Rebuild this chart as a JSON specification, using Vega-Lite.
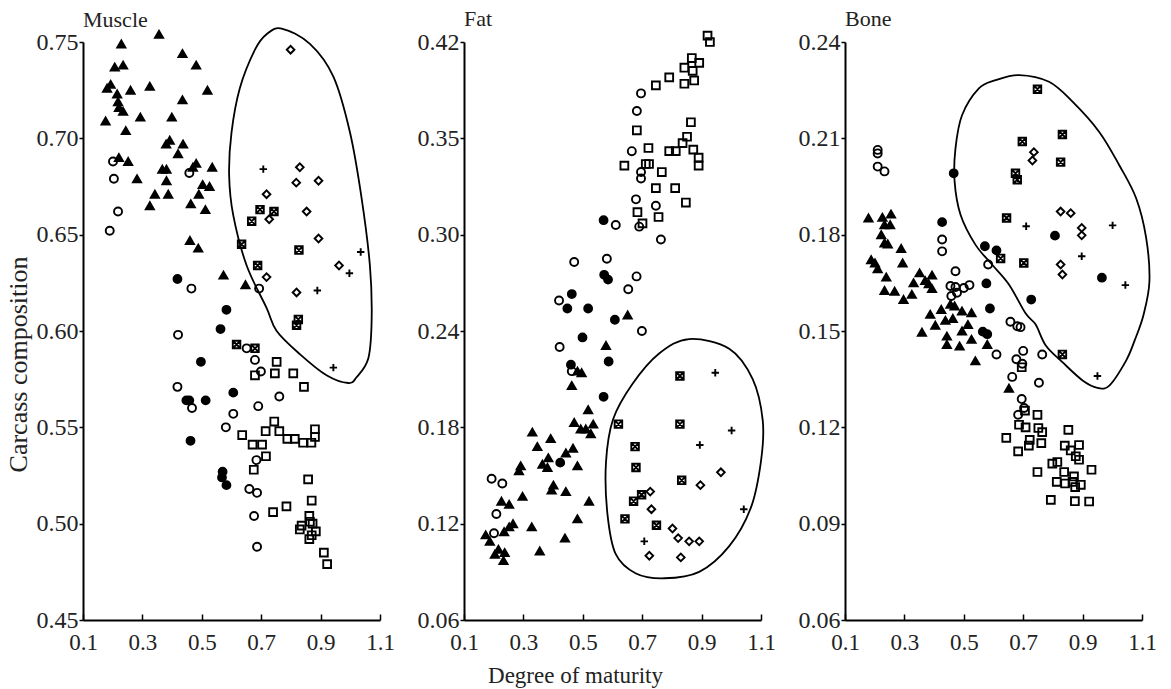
{
  "$schema": "https://vega.github.io/schema/vega-lite/v6.json",
  "background": "white",
  "padding": {"left": 5, "top": 7, "right": 5, "bottom": 2},
  "config": {
    "view": {"stroke": null},
    "concat": {"spacing": 22},
    "axis": {"grid": false, "domainColor": "black", "domainWidth": 2, "tickColor": "black", "tickWidth": 1.5, "labelFlush": false, "labelOverlap": false,
      "labelFont": "Liberation Serif", "labelFontSize": 24, "labelColor": "#222",
      "titleFont": "Liberation Serif", "titleFontSize": 23, "titleFontWeight": "normal", "titleColor": "#222"},
    "axisX": {"labelFontSize": 23},
    "title": {"font": "Liberation Serif", "fontSize": 22, "fontWeight": "normal", "color": "#222", "anchor": "start", "frame": "group"}
  },
  "datasets": {
    "pts": [
      {"p":"M","g":"tri","x":0.356,"y":0.754},{"p":"M","g":"tri","x":0.229,"y":0.749},{"p":"M","g":"tri","x":0.435,"y":0.744},{"p":"M","g":"tri","x":0.481,"y":0.738},{"p":"M","g":"tri","x":0.207,"y":0.737},{"p":"M","g":"tri","x":0.235,"y":0.738},{"p":"M","g":"tri","x":0.193,"y":0.728},{"p":"M","g":"tri","x":0.181,"y":0.726},{"p":"M","g":"tri","x":0.215,"y":0.723},{"p":"M","g":"tri","x":0.218,"y":0.719},{"p":"M","g":"tri","x":0.260,"y":0.725},{"p":"M","g":"tri","x":0.325,"y":0.727},{"p":"M","g":"tri","x":0.519,"y":0.725},{"p":"M","g":"tri","x":0.435,"y":0.720},{"p":"M","g":"tri","x":0.221,"y":0.716},{"p":"M","g":"tri","x":0.235,"y":0.714},{"p":"M","g":"tri","x":0.293,"y":0.711},{"p":"M","g":"tri","x":0.176,"y":0.709},{"p":"M","g":"tri","x":0.399,"y":0.711},{"p":"M","g":"tri","x":0.244,"y":0.704},{"p":"M","g":"tri","x":0.380,"y":0.697},{"p":"M","g":"tri","x":0.392,"y":0.699},{"p":"M","g":"tri","x":0.437,"y":0.697},{"p":"M","g":"tri","x":0.420,"y":0.692},{"p":"M","g":"tri","x":0.221,"y":0.690},{"p":"M","g":"tri","x":0.252,"y":0.688},{"p":"M","g":"tri","x":0.282,"y":0.679},{"p":"M","g":"tri","x":0.367,"y":0.684},{"p":"M","g":"tri","x":0.381,"y":0.684},{"p":"M","g":"tri","x":0.381,"y":0.678},{"p":"M","g":"tri","x":0.342,"y":0.671},{"p":"M","g":"tri","x":0.387,"y":0.671},{"p":"M","g":"tri","x":0.470,"y":0.685},{"p":"M","g":"tri","x":0.481,"y":0.687},{"p":"M","g":"tri","x":0.535,"y":0.685},{"p":"M","g":"tri","x":0.503,"y":0.676},{"p":"M","g":"tri","x":0.526,"y":0.675},{"p":"M","g":"tri","x":0.490,"y":0.671},{"p":"M","g":"tri","x":0.325,"y":0.665},{"p":"M","g":"tri","x":0.463,"y":0.666},{"p":"M","g":"tri","x":0.512,"y":0.663},{"p":"M","g":"tri","x":0.460,"y":0.647},{"p":"M","g":"tri","x":0.488,"y":0.643},{"p":"M","g":"tri","x":0.573,"y":0.629},{"p":"M","g":"tri","x":0.647,"y":0.624},
      {"p":"M","g":"circ","x":0.201,"y":0.688},{"p":"M","g":"circ","x":0.204,"y":0.679},{"p":"M","g":"circ","x":0.218,"y":0.662},{"p":"M","g":"circ","x":0.190,"y":0.652},{"p":"M","g":"circ","x":0.458,"y":0.682},{"p":"M","g":"circ","x":0.465,"y":0.622},{"p":"M","g":"circ","x":0.693,"y":0.622},{"p":"M","g":"circ","x":0.420,"y":0.598},{"p":"M","g":"circ","x":0.418,"y":0.571},{"p":"M","g":"circ","x":0.467,"y":0.560},{"p":"M","g":"circ","x":0.651,"y":0.591},{"p":"M","g":"circ","x":0.679,"y":0.585},{"p":"M","g":"circ","x":0.699,"y":0.579},{"p":"M","g":"circ","x":0.761,"y":0.566},{"p":"M","g":"circ","x":0.690,"y":0.561},{"p":"M","g":"circ","x":0.606,"y":0.557},{"p":"M","g":"circ","x":0.581,"y":0.550},{"p":"M","g":"circ","x":0.684,"y":0.533},{"p":"M","g":"circ","x":0.660,"y":0.518},{"p":"M","g":"circ","x":0.686,"y":0.516},{"p":"M","g":"circ","x":0.676,"y":0.504},{"p":"M","g":"circ","x":0.686,"y":0.488},
      {"p":"M","g":"dot","x":0.418,"y":0.627},{"p":"M","g":"dot","x":0.583,"y":0.611},{"p":"M","g":"dot","x":0.563,"y":0.601},{"p":"M","g":"dot","x":0.497,"y":0.584},{"p":"M","g":"dot","x":0.606,"y":0.568},{"p":"M","g":"dot","x":0.513,"y":0.564},{"p":"M","g":"dot","x":0.448,"y":0.564},{"p":"M","g":"dot","x":0.458,"y":0.564},{"p":"M","g":"dot","x":0.462,"y":0.543},{"p":"M","g":"dot","x":0.570,"y":0.527},{"p":"M","g":"dot","x":0.568,"y":0.524},{"p":"M","g":"dot","x":0.583,"y":0.520},
      {"p":"M","g":"sq","x":0.752,"y":0.584},{"p":"M","g":"sq","x":0.746,"y":0.578},{"p":"M","g":"sq","x":0.808,"y":0.578},{"p":"M","g":"sq","x":0.844,"y":0.571},{"p":"M","g":"sq","x":0.679,"y":0.577},{"p":"M","g":"sq","x":0.744,"y":0.553},{"p":"M","g":"sq","x":0.636,"y":0.546},{"p":"M","g":"sq","x":0.715,"y":0.548},{"p":"M","g":"sq","x":0.761,"y":0.548},{"p":"M","g":"sq","x":0.788,"y":0.544},{"p":"M","g":"sq","x":0.813,"y":0.544},{"p":"M","g":"sq","x":0.841,"y":0.542},{"p":"M","g":"sq","x":0.869,"y":0.542},{"p":"M","g":"sq","x":0.881,"y":0.549},{"p":"M","g":"sq","x":0.881,"y":0.545},{"p":"M","g":"sq","x":0.671,"y":0.541},{"p":"M","g":"sq","x":0.703,"y":0.541},{"p":"M","g":"sq","x":0.716,"y":0.535},{"p":"M","g":"sq","x":0.675,"y":0.528},{"p":"M","g":"sq","x":0.858,"y":0.523},{"p":"M","g":"sq","x":0.870,"y":0.512},{"p":"M","g":"sq","x":0.785,"y":0.509},{"p":"M","g":"sq","x":0.740,"y":0.506},{"p":"M","g":"sq","x":0.862,"y":0.504},{"p":"M","g":"sq","x":0.836,"y":0.499},{"p":"M","g":"sq","x":0.830,"y":0.497},{"p":"M","g":"sq","x":0.864,"y":0.501},{"p":"M","g":"sq","x":0.873,"y":0.500},{"p":"M","g":"sq","x":0.884,"y":0.496},{"p":"M","g":"sq","x":0.862,"y":0.492},{"p":"M","g":"sq","x":0.870,"y":0.494},{"p":"M","g":"sq","x":0.911,"y":0.485},{"p":"M","g":"sq","x":0.922,"y":0.479},
      {"p":"M","g":"dia","x":0.799,"y":0.746},{"p":"M","g":"dia","x":0.830,"y":0.685},{"p":"M","g":"dia","x":0.818,"y":0.677},{"p":"M","g":"dia","x":0.893,"y":0.678},{"p":"M","g":"dia","x":0.718,"y":0.671},{"p":"M","g":"dia","x":0.853,"y":0.662},{"p":"M","g":"dia","x":0.727,"y":0.658},{"p":"M","g":"dia","x":0.893,"y":0.648},{"p":"M","g":"dia","x":0.718,"y":0.628},{"p":"M","g":"dia","x":0.962,"y":0.634},{"p":"M","g":"dia","x":0.819,"y":0.620},
      {"p":"M","g":"box","x":0.696,"y":0.663},{"p":"M","g":"box","x":0.668,"y":0.657},{"p":"M","g":"box","x":0.743,"y":0.662},{"p":"M","g":"box","x":0.634,"y":0.645},{"p":"M","g":"box","x":0.688,"y":0.634},{"p":"M","g":"box","x":0.827,"y":0.642},{"p":"M","g":"box","x":0.825,"y":0.606},{"p":"M","g":"box","x":0.819,"y":0.603},{"p":"M","g":"box","x":0.617,"y":0.593},{"p":"M","g":"box","x":0.679,"y":0.591},
      {"p":"M","g":"plus","x":0.707,"y":0.684},{"p":"M","g":"plus","x":1.035,"y":0.641},{"p":"M","g":"plus","x":0.997,"y":0.630},{"p":"M","g":"plus","x":0.889,"y":0.621},{"p":"M","g":"plus","x":0.943,"y":0.581},

      {"p":"F","g":"sq","x":0.920,"y":0.424},{"p":"F","g":"sq","x":0.928,"y":0.420},{"p":"F","g":"sq","x":0.867,"y":0.410},{"p":"F","g":"sq","x":0.892,"y":0.407},{"p":"F","g":"sq","x":0.842,"y":0.404},{"p":"F","g":"sq","x":0.870,"y":0.402},{"p":"F","g":"sq","x":0.875,"y":0.396},{"p":"F","g":"sq","x":0.842,"y":0.394},{"p":"F","g":"sq","x":0.791,"y":0.398},{"p":"F","g":"sq","x":0.746,"y":0.393},{"p":"F","g":"sq","x":0.864,"y":0.370},{"p":"F","g":"sq","x":0.851,"y":0.361},{"p":"F","g":"sq","x":0.836,"y":0.357},{"p":"F","g":"sq","x":0.813,"y":0.352},{"p":"F","g":"sq","x":0.791,"y":0.352},{"p":"F","g":"sq","x":0.721,"y":0.354},{"p":"F","g":"sq","x":0.872,"y":0.353},{"p":"F","g":"sq","x":0.890,"y":0.348},{"p":"F","g":"sq","x":0.890,"y":0.343},{"p":"F","g":"sq","x":0.640,"y":0.343},{"p":"F","g":"sq","x":0.712,"y":0.344},{"p":"F","g":"sq","x":0.723,"y":0.344},{"p":"F","g":"sq","x":0.682,"y":0.365},{"p":"F","g":"sq","x":0.766,"y":0.339},{"p":"F","g":"sq","x":0.746,"y":0.329},{"p":"F","g":"sq","x":0.811,"y":0.329},{"p":"F","g":"sq","x":0.847,"y":0.320},{"p":"F","g":"sq","x":0.684,"y":0.314},{"p":"F","g":"sq","x":0.755,"y":0.311},{"p":"F","g":"sq","x":0.701,"y":0.307},
      {"p":"F","g":"circ","x":0.696,"y":0.388},{"p":"F","g":"circ","x":0.682,"y":0.377},{"p":"F","g":"circ","x":0.665,"y":0.352},{"p":"F","g":"circ","x":0.696,"y":0.339},{"p":"F","g":"circ","x":0.696,"y":0.335},{"p":"F","g":"circ","x":0.679,"y":0.322},{"p":"F","g":"circ","x":0.746,"y":0.318},{"p":"F","g":"circ","x":0.611,"y":0.306},{"p":"F","g":"circ","x":0.690,"y":0.305},{"p":"F","g":"circ","x":0.763,"y":0.297},{"p":"F","g":"circ","x":0.471,"y":0.283},{"p":"F","g":"circ","x":0.581,"y":0.285},{"p":"F","g":"circ","x":0.681,"y":0.274},{"p":"F","g":"circ","x":0.653,"y":0.266},{"p":"F","g":"circ","x":0.420,"y":0.259},{"p":"F","g":"circ","x":0.699,"y":0.240},{"p":"F","g":"circ","x":0.422,"y":0.230},{"p":"F","g":"circ","x":0.463,"y":0.215},{"p":"F","g":"circ","x":0.193,"y":0.148},{"p":"F","g":"circ","x":0.229,"y":0.145},{"p":"F","g":"circ","x":0.209,"y":0.126},{"p":"F","g":"circ","x":0.201,"y":0.114},
      {"p":"F","g":"dot","x":0.570,"y":0.309},{"p":"F","g":"dot","x":0.572,"y":0.275},{"p":"F","g":"dot","x":0.585,"y":0.272},{"p":"F","g":"dot","x":0.463,"y":0.263},{"p":"F","g":"dot","x":0.448,"y":0.254},{"p":"F","g":"dot","x":0.518,"y":0.254},{"p":"F","g":"dot","x":0.608,"y":0.247},{"p":"F","g":"dot","x":0.499,"y":0.236},{"p":"F","g":"dot","x":0.587,"y":0.221},{"p":"F","g":"dot","x":0.460,"y":0.219},{"p":"F","g":"dot","x":0.570,"y":0.199},{"p":"F","g":"dot","x":0.424,"y":0.158},
      {"p":"F","g":"tri","x":0.651,"y":0.250},{"p":"F","g":"tri","x":0.578,"y":0.231},{"p":"F","g":"tri","x":0.482,"y":0.215},{"p":"F","g":"tri","x":0.496,"y":0.214},{"p":"F","g":"tri","x":0.463,"y":0.206},{"p":"F","g":"tri","x":0.518,"y":0.191},{"p":"F","g":"tri","x":0.471,"y":0.183},{"p":"F","g":"tri","x":0.535,"y":0.182},{"p":"F","g":"tri","x":0.493,"y":0.179},{"p":"F","g":"tri","x":0.510,"y":0.179},{"p":"F","g":"tri","x":0.527,"y":0.176},{"p":"F","g":"tri","x":0.330,"y":0.177},{"p":"F","g":"tri","x":0.392,"y":0.173},{"p":"F","g":"tri","x":0.347,"y":0.168},{"p":"F","g":"tri","x":0.467,"y":0.167},{"p":"F","g":"tri","x":0.443,"y":0.164},{"p":"F","g":"tri","x":0.384,"y":0.161},{"p":"F","g":"tri","x":0.364,"y":0.157},{"p":"F","g":"tri","x":0.381,"y":0.155},{"p":"F","g":"tri","x":0.291,"y":0.156},{"p":"F","g":"tri","x":0.285,"y":0.153},{"p":"F","g":"tri","x":0.482,"y":0.156},{"p":"F","g":"tri","x":0.401,"y":0.144},{"p":"F","g":"tri","x":0.395,"y":0.141},{"p":"F","g":"tri","x":0.443,"y":0.140},{"p":"F","g":"tri","x":0.297,"y":0.137},{"p":"F","g":"tri","x":0.521,"y":0.134},{"p":"F","g":"tri","x":0.226,"y":0.134},{"p":"F","g":"tri","x":0.252,"y":0.132},{"p":"F","g":"tri","x":0.482,"y":0.123},{"p":"F","g":"tri","x":0.328,"y":0.118},{"p":"F","g":"tri","x":0.265,"y":0.120},{"p":"F","g":"tri","x":0.252,"y":0.118},{"p":"F","g":"tri","x":0.235,"y":0.115},{"p":"F","g":"tri","x":0.173,"y":0.113},{"p":"F","g":"tri","x":0.187,"y":0.109},{"p":"F","g":"tri","x":0.216,"y":0.104},{"p":"F","g":"tri","x":0.237,"y":0.102},{"p":"F","g":"tri","x":0.204,"y":0.101},{"p":"F","g":"tri","x":0.233,"y":0.097},{"p":"F","g":"tri","x":0.355,"y":0.103},{"p":"F","g":"tri","x":0.440,"y":0.111},
      {"p":"F","g":"box","x":0.827,"y":0.212},{"p":"F","g":"box","x":0.620,"y":0.182},{"p":"F","g":"box","x":0.827,"y":0.182},{"p":"F","g":"box","x":0.676,"y":0.168},{"p":"F","g":"box","x":0.679,"y":0.155},{"p":"F","g":"box","x":0.833,"y":0.147},{"p":"F","g":"box","x":0.698,"y":0.138},{"p":"F","g":"box","x":0.671,"y":0.134},{"p":"F","g":"box","x":0.642,"y":0.123},{"p":"F","g":"box","x":0.748,"y":0.119},
      {"p":"F","g":"plus","x":0.946,"y":0.214},{"p":"F","g":"plus","x":1.001,"y":0.178},{"p":"F","g":"plus","x":0.894,"y":0.169},{"p":"F","g":"plus","x":1.042,"y":0.129},{"p":"F","g":"plus","x":0.707,"y":0.109},
      {"p":"F","g":"dia","x":0.965,"y":0.152},{"p":"F","g":"dia","x":0.896,"y":0.144},{"p":"F","g":"dia","x":0.727,"y":0.140},{"p":"F","g":"dia","x":0.731,"y":0.129},{"p":"F","g":"dia","x":0.802,"y":0.117},{"p":"F","g":"dia","x":0.821,"y":0.111},{"p":"F","g":"dia","x":0.858,"y":0.109},{"p":"F","g":"dia","x":0.892,"y":0.109},{"p":"F","g":"dia","x":0.724,"y":0.100},{"p":"F","g":"dia","x":0.830,"y":0.099},

      {"p":"B","g":"circ","x":0.210,"y":0.2064},{"p":"B","g":"circ","x":0.210,"y":0.2053},{"p":"B","g":"circ","x":0.210,"y":0.2012},{"p":"B","g":"circ","x":0.233,"y":0.1997},{"p":"B","g":"circ","x":0.427,"y":0.1785},{"p":"B","g":"circ","x":0.427,"y":0.1748},{"p":"B","g":"circ","x":0.472,"y":0.1686},{"p":"B","g":"circ","x":0.582,"y":0.1707},{"p":"B","g":"circ","x":0.455,"y":0.164},{"p":"B","g":"circ","x":0.472,"y":0.1637},{"p":"B","g":"circ","x":0.500,"y":0.1634},{"p":"B","g":"circ","x":0.519,"y":0.1643},{"p":"B","g":"circ","x":0.477,"y":0.1619},{"p":"B","g":"circ","x":0.458,"y":0.1609},{"p":"B","g":"circ","x":0.657,"y":0.1529},{"p":"B","g":"circ","x":0.680,"y":0.1515},{"p":"B","g":"circ","x":0.691,"y":0.1512},{"p":"B","g":"circ","x":0.610,"y":0.1427},{"p":"B","g":"circ","x":0.700,"y":0.1438},{"p":"B","g":"circ","x":0.677,"y":0.1412},{"p":"B","g":"circ","x":0.764,"y":0.1427},{"p":"B","g":"circ","x":0.697,"y":0.1398},{"p":"B","g":"circ","x":0.663,"y":0.1357},{"p":"B","g":"circ","x":0.753,"y":0.1339},{"p":"B","g":"circ","x":0.695,"y":0.1288},{"p":"B","g":"circ","x":0.703,"y":0.126},{"p":"B","g":"circ","x":0.683,"y":0.1239},
      {"p":"B","g":"dot","x":0.466,"y":0.1991},{"p":"B","g":"dot","x":0.427,"y":0.1839},{"p":"B","g":"dot","x":0.571,"y":0.1764},{"p":"B","g":"dot","x":0.610,"y":0.1751},{"p":"B","g":"dot","x":0.576,"y":0.1648},{"p":"B","g":"dot","x":0.727,"y":0.1598},{"p":"B","g":"dot","x":0.588,"y":0.157},{"p":"B","g":"dot","x":0.807,"y":0.1797},{"p":"B","g":"dot","x":0.965,"y":0.1666},{"p":"B","g":"dot","x":0.564,"y":0.1498},{"p":"B","g":"dot","x":0.579,"y":0.149},
      {"p":"B","g":"tri","x":0.179,"y":0.1852},{"p":"B","g":"tri","x":0.226,"y":0.1854},{"p":"B","g":"tri","x":0.255,"y":0.1864},{"p":"B","g":"tri","x":0.233,"y":0.1831},{"p":"B","g":"tri","x":0.252,"y":0.1831},{"p":"B","g":"tri","x":0.222,"y":0.180},{"p":"B","g":"tri","x":0.233,"y":0.1774},{"p":"B","g":"tri","x":0.244,"y":0.1771},{"p":"B","g":"tri","x":0.289,"y":0.1757},{"p":"B","g":"tri","x":0.294,"y":0.1712},{"p":"B","g":"tri","x":0.188,"y":0.1722},{"p":"B","g":"tri","x":0.201,"y":0.1712},{"p":"B","g":"tri","x":0.210,"y":0.1694},{"p":"B","g":"tri","x":0.239,"y":0.1668},{"p":"B","g":"tri","x":0.233,"y":0.1626},{"p":"B","g":"tri","x":0.267,"y":0.1624},{"p":"B","g":"tri","x":0.297,"y":0.1598},{"p":"B","g":"tri","x":0.325,"y":0.1614},{"p":"B","g":"tri","x":0.331,"y":0.165},{"p":"B","g":"tri","x":0.351,"y":0.1681},{"p":"B","g":"tri","x":0.370,"y":0.1657},{"p":"B","g":"tri","x":0.393,"y":0.1674},{"p":"B","g":"tri","x":0.382,"y":0.1647},{"p":"B","g":"tri","x":0.393,"y":0.1632},{"p":"B","g":"tri","x":0.424,"y":0.1567},{"p":"B","g":"tri","x":0.455,"y":0.1583},{"p":"B","g":"tri","x":0.494,"y":0.1562},{"p":"B","g":"tri","x":0.469,"y":0.1578},{"p":"B","g":"tri","x":0.526,"y":0.1557},{"p":"B","g":"tri","x":0.387,"y":0.1552},{"p":"B","g":"tri","x":0.404,"y":0.1518},{"p":"B","g":"tri","x":0.438,"y":0.1533},{"p":"B","g":"tri","x":0.463,"y":0.1539},{"p":"B","g":"tri","x":0.359,"y":0.1496},{"p":"B","g":"tri","x":0.494,"y":0.150},{"p":"B","g":"tri","x":0.514,"y":0.152},{"p":"B","g":"tri","x":0.443,"y":0.1484},{"p":"B","g":"tri","x":0.443,"y":0.1458},{"p":"B","g":"tri","x":0.486,"y":0.1453},{"p":"B","g":"tri","x":0.526,"y":0.1474},{"p":"B","g":"tri","x":0.579,"y":0.1458},{"p":"B","g":"tri","x":0.539,"y":0.1407},{"p":"B","g":"tri","x":0.652,"y":0.1322},
      {"p":"B","g":"box","x":0.748,"y":0.2253},{"p":"B","g":"box","x":0.697,"y":0.209},{"p":"B","g":"box","x":0.832,"y":0.2112},{"p":"B","g":"box","x":0.826,"y":0.2026},{"p":"B","g":"box","x":0.674,"y":0.1991},{"p":"B","g":"box","x":0.680,"y":0.1971},{"p":"B","g":"box","x":0.644,"y":0.1852},{"p":"B","g":"box","x":0.624,"y":0.1726},{"p":"B","g":"box","x":0.702,"y":0.1712},{"p":"B","g":"box","x":0.832,"y":0.1427},
      {"p":"B","g":"dia","x":0.736,"y":0.2057},{"p":"B","g":"dia","x":0.731,"y":0.2031},{"p":"B","g":"dia","x":0.826,"y":0.1872},{"p":"B","g":"dia","x":0.860,"y":0.1867},{"p":"B","g":"dia","x":0.897,"y":0.1821},{"p":"B","g":"dia","x":0.897,"y":0.1798},{"p":"B","g":"dia","x":0.826,"y":0.1707},{"p":"B","g":"dia","x":0.832,"y":0.1676},
      {"p":"B","g":"plus","x":0.710,"y":0.1826},{"p":"B","g":"plus","x":1.001,"y":0.1829},{"p":"B","g":"plus","x":0.897,"y":0.1733},{"p":"B","g":"plus","x":1.044,"y":0.1643},{"p":"B","g":"plus","x":0.950,"y":0.136},
      {"p":"B","g":"sq","x":0.695,"y":0.1387},{"p":"B","g":"sq","x":0.706,"y":0.1252},{"p":"B","g":"sq","x":0.748,"y":0.1239},{"p":"B","g":"sq","x":0.686,"y":0.1208},{"p":"B","g":"sq","x":0.708,"y":0.120},{"p":"B","g":"sq","x":0.751,"y":0.1198},{"p":"B","g":"sq","x":0.764,"y":0.1185},{"p":"B","g":"sq","x":0.852,"y":0.1192},{"p":"B","g":"sq","x":0.643,"y":0.1167},{"p":"B","g":"sq","x":0.722,"y":0.1161},{"p":"B","g":"sq","x":0.719,"y":0.1143},{"p":"B","g":"sq","x":0.761,"y":0.1151},{"p":"B","g":"sq","x":0.840,"y":0.1143},{"p":"B","g":"sq","x":0.888,"y":0.1145},{"p":"B","g":"sq","x":0.860,"y":0.1128},{"p":"B","g":"sq","x":0.877,"y":0.111},{"p":"B","g":"sq","x":0.888,"y":0.1099},{"p":"B","g":"sq","x":0.683,"y":0.1125},{"p":"B","g":"sq","x":0.815,"y":0.1092},{"p":"B","g":"sq","x":0.798,"y":0.1087},{"p":"B","g":"sq","x":0.748,"y":0.1061},{"p":"B","g":"sq","x":0.838,"y":0.1061},{"p":"B","g":"sq","x":0.930,"y":0.1068},{"p":"B","g":"sq","x":0.871,"y":0.1047},{"p":"B","g":"sq","x":0.813,"y":0.103},{"p":"B","g":"sq","x":0.841,"y":0.1025},{"p":"B","g":"sq","x":0.866,"y":0.103},{"p":"B","g":"sq","x":0.875,"y":0.1014},{"p":"B","g":"sq","x":0.894,"y":0.1021},{"p":"B","g":"sq","x":0.793,"y":0.0974},{"p":"B","g":"sq","x":0.874,"y":0.097},{"p":"B","g":"sq","x":0.922,"y":0.0969}
    ],
    "ell": [
      {"p":"M","i":1,"x":0.769,"y":0.757},{"p":"M","i":2,"x":0.864,"y":0.749},{"p":"M","i":3,"x":0.943,"y":0.732},{"p":"M","i":4,"x":0.999,"y":0.703},{"p":"M","i":5,"x":1.038,"y":0.669},{"p":"M","i":6,"x":1.066,"y":0.634},{"p":"M","i":7,"x":1.072,"y":0.607},{"p":"M","i":8,"x":1.061,"y":0.586},{"p":"M","i":9,"x":1.021,"y":0.576},{"p":"M","i":10,"x":0.993,"y":0.573},{"p":"M","i":11,"x":0.920,"y":0.577},{"p":"M","i":12,"x":0.830,"y":0.588},{"p":"M","i":13,"x":0.752,"y":0.600},{"p":"M","i":14,"x":0.718,"y":0.612},{"p":"M","i":15,"x":0.651,"y":0.634},{"p":"M","i":16,"x":0.606,"y":0.660},{"p":"M","i":17,"x":0.592,"y":0.681},{"p":"M","i":18,"x":0.600,"y":0.703},{"p":"M","i":19,"x":0.628,"y":0.726},{"p":"M","i":20,"x":0.679,"y":0.746},{"p":"M","i":21,"x":0.718,"y":0.754},
      {"p":"F","i":1,"x":0.858,"y":0.235},{"p":"F","i":2,"x":0.993,"y":0.229},{"p":"F","i":3,"x":1.072,"y":0.210},{"p":"F","i":4,"x":1.106,"y":0.184},{"p":"F","i":5,"x":1.100,"y":0.159},{"p":"F","i":6,"x":1.066,"y":0.130},{"p":"F","i":7,"x":0.993,"y":0.106},{"p":"F","i":8,"x":0.892,"y":0.090},{"p":"F","i":9,"x":0.774,"y":0.086},{"p":"F","i":10,"x":0.679,"y":0.089},{"p":"F","i":11,"x":0.611,"y":0.101},{"p":"F","i":12,"x":0.583,"y":0.126},{"p":"F","i":13,"x":0.578,"y":0.158},{"p":"F","i":14,"x":0.602,"y":0.185},{"p":"F","i":15,"x":0.667,"y":0.207},{"p":"F","i":16,"x":0.757,"y":0.226},
      {"p":"B","i":1,"x":0.686,"y":0.2297},{"p":"B","i":2,"x":0.787,"y":0.2276},{"p":"B","i":3,"x":0.866,"y":0.2214},{"p":"B","i":4,"x":0.956,"y":0.212},{"p":"B","i":5,"x":1.023,"y":0.2017},{"p":"B","i":6,"x":1.080,"y":0.1914},{"p":"B","i":7,"x":1.114,"y":0.179},{"p":"B","i":8,"x":1.125,"y":0.1655},{"p":"B","i":9,"x":1.105,"y":0.155},{"p":"B","i":10,"x":1.075,"y":0.147},{"p":"B","i":11,"x":1.046,"y":0.1407},{"p":"B","i":12,"x":0.990,"y":0.133},{"p":"B","i":13,"x":0.950,"y":0.1323},{"p":"B","i":14,"x":0.900,"y":0.1346},{"p":"B","i":15,"x":0.832,"y":0.1403},{"p":"B","i":16,"x":0.776,"y":0.1455},{"p":"B","i":17,"x":0.742,"y":0.152},{"p":"B","i":18,"x":0.708,"y":0.1555},{"p":"B","i":19,"x":0.652,"y":0.1645},{"p":"B","i":20,"x":0.595,"y":0.1707},{"p":"B","i":21,"x":0.539,"y":0.1769},{"p":"B","i":22,"x":0.489,"y":0.1862},{"p":"B","i":23,"x":0.469,"y":0.1966},{"p":"B","i":24,"x":0.472,"y":0.2069},{"p":"B","i":25,"x":0.494,"y":0.2172},{"p":"B","i":26,"x":0.550,"y":0.2255},{"p":"B","i":27,"x":0.607,"y":0.2281}
    ]
  },
  "hconcat": [
    {
      "width": 297, "height": 578,
      "title": {"text": "Muscle", "offset": -7},
      "layer": [
        {
          "data": {"name": "ell"},
          "transform": [{"filter": "datum.p == 'M'"}],
          "mark": {"type": "line", "interpolate": "cardinal-closed", "color": "black", "strokeWidth": 1.8},
          "encoding": {
            "x": {"field": "x", "type": "quantitative", "scale": {"domain": [0.1, 1.1], "nice": false, "zero": false},
              "axis": {"title": null, "values": [0.1,0.3,0.5,0.7,0.9,1.1], "format": ".1f", "tickSize": -6, "labelPadding": 17}},
            "y": {"field": "y", "type": "quantitative", "scale": {"domain": [0.45, 0.75], "nice": false, "zero": false},
              "axis": {"title": "Carcass composition", "titleFontSize": 26, "titleX": -65, "titleY": 322, "titleBaseline": "middle", "titleAlign": "center", "titleAngle": -90, "values": [0.45,0.5,0.55,0.6,0.65,0.7,0.75], "format": ".2f", "tickSize": 4, "labelPadding": 1}},
            "order": {"field": "i", "type": "quantitative"}
          }
        },
        {
          "data": {"name": "pts"},
          "transform": [{"filter": "datum.p == 'M'"}],
          "mark": {"type": "point", "stroke": "black", "strokeWidth": 1.9, "opacity": 1, "fillOpacity": 1},
          "encoding": {
            "x": {"field": "x", "type": "quantitative"},
            "y": {"field": "y", "type": "quantitative"},
            "shape": {"field": "g", "type": "nominal", "legend": null, "scale": {"domain": ["tri","circ","dot","sq","dia","box","plus"], "range": ["triangle-up","circle","circle","square","diamond","M-1,-1H1V1H-1ZM-1,-1L1,1M1,-1L-1,1","M-1,0H1M0,-1V1"]}},
            "fill": {"field": "g", "type": "nominal", "legend": null, "scale": {"domain": ["tri","circ","dot","sq","dia","box","plus"], "range": ["black","transparent","black","transparent","transparent","transparent","transparent"]}},
            "size": {"field": "g", "type": "nominal", "legend": null, "scale": {"domain": ["tri","circ","dot","sq","dia","box","plus"], "range": [66,55,32,55,50,48,70]}}
          }
        }
      ]
    },
    {
      "width": 297, "height": 578,
      "title": {"text": "Fat", "offset": -3},
      "layer": [
        {
          "data": {"name": "ell"},
          "transform": [{"filter": "datum.p == 'F'"}],
          "mark": {"type": "line", "interpolate": "cardinal-closed", "color": "black", "strokeWidth": 1.8},
          "encoding": {
            "x": {"field": "x", "type": "quantitative", "scale": {"domain": [0.1, 1.1], "nice": false, "zero": false},
              "axis": {"title": "Degree of maturity", "values": [0.1,0.3,0.5,0.7,0.9,1.1], "format": ".1f", "tickSize": -6, "labelPadding": 17, "titleX": 111, "titleY": 62, "titleBaseline": "alphabetic", "titleAlign": "center"}},
            "y": {"field": "y", "type": "quantitative", "scale": {"domain": [0.06, 0.42], "nice": false, "zero": false},
              "axis": {"title": null, "values": [0.06,0.12,0.18,0.24,0.30,0.36,0.42], "labelExpr": "format(datum.value, '.2f') == '0.36' ? '0.35' : format(datum.value, '.2f')", "tickSize": 4, "labelPadding": 1}},
            "order": {"field": "i", "type": "quantitative"}
          }
        },
        {
          "data": {"name": "pts"},
          "transform": [{"filter": "datum.p == 'F'"}],
          "mark": {"type": "point", "stroke": "black", "strokeWidth": 1.9, "opacity": 1, "fillOpacity": 1},
          "encoding": {
            "x": {"field": "x", "type": "quantitative"},
            "y": {"field": "y", "type": "quantitative"},
            "shape": {"field": "g", "type": "nominal", "legend": null, "scale": {"domain": ["tri","circ","dot","sq","dia","box","plus"], "range": ["triangle-up","circle","circle","square","diamond","M-1,-1H1V1H-1ZM-1,-1L1,1M1,-1L-1,1","M-1,0H1M0,-1V1"]}},
            "fill": {"field": "g", "type": "nominal", "legend": null, "scale": {"domain": ["tri","circ","dot","sq","dia","box","plus"], "range": ["black","transparent","black","transparent","transparent","transparent","transparent"]}},
            "size": {"field": "g", "type": "nominal", "legend": null, "scale": {"domain": ["tri","circ","dot","sq","dia","box","plus"], "range": [66,55,32,55,50,48,70]}}
          }
        }
      ]
    },
    {
      "width": 297, "height": 578,
      "title": {"text": "Bone", "offset": -1},
      "layer": [
        {
          "data": {"name": "ell"},
          "transform": [{"filter": "datum.p == 'B'"}],
          "mark": {"type": "line", "interpolate": "cardinal-closed", "color": "black", "strokeWidth": 1.8},
          "encoding": {
            "x": {"field": "x", "type": "quantitative", "scale": {"domain": [0.1, 1.1], "nice": false, "zero": false},
              "axis": {"title": null, "values": [0.1,0.3,0.5,0.7,0.9,1.1], "format": ".1f", "tickSize": -6, "labelPadding": 17}},
            "y": {"field": "y", "type": "quantitative", "scale": {"domain": [0.06, 0.24], "nice": false, "zero": false},
              "axis": {"title": null, "values": [0.06,0.09,0.12,0.15,0.18,0.21,0.24], "format": ".2f", "tickSize": 4, "labelPadding": 1}},
            "order": {"field": "i", "type": "quantitative"}
          }
        },
        {
          "data": {"name": "pts"},
          "transform": [{"filter": "datum.p == 'B'"}],
          "mark": {"type": "point", "stroke": "black", "strokeWidth": 1.9, "opacity": 1, "fillOpacity": 1},
          "encoding": {
            "x": {"field": "x", "type": "quantitative"},
            "y": {"field": "y", "type": "quantitative"},
            "shape": {"field": "g", "type": "nominal", "legend": null, "scale": {"domain": ["tri","circ","dot","sq","dia","box","plus"], "range": ["triangle-up","circle","circle","square","diamond","M-1,-1H1V1H-1ZM-1,-1L1,1M1,-1L-1,1","M-1,0H1M0,-1V1"]}},
            "fill": {"field": "g", "type": "nominal", "legend": null, "scale": {"domain": ["tri","circ","dot","sq","dia","box","plus"], "range": ["black","transparent","black","transparent","transparent","transparent","transparent"]}},
            "size": {"field": "g", "type": "nominal", "legend": null, "scale": {"domain": ["tri","circ","dot","sq","dia","box","plus"], "range": [66,55,32,55,50,48,70]}}
          }
        }
      ]
    }
  ]
}
